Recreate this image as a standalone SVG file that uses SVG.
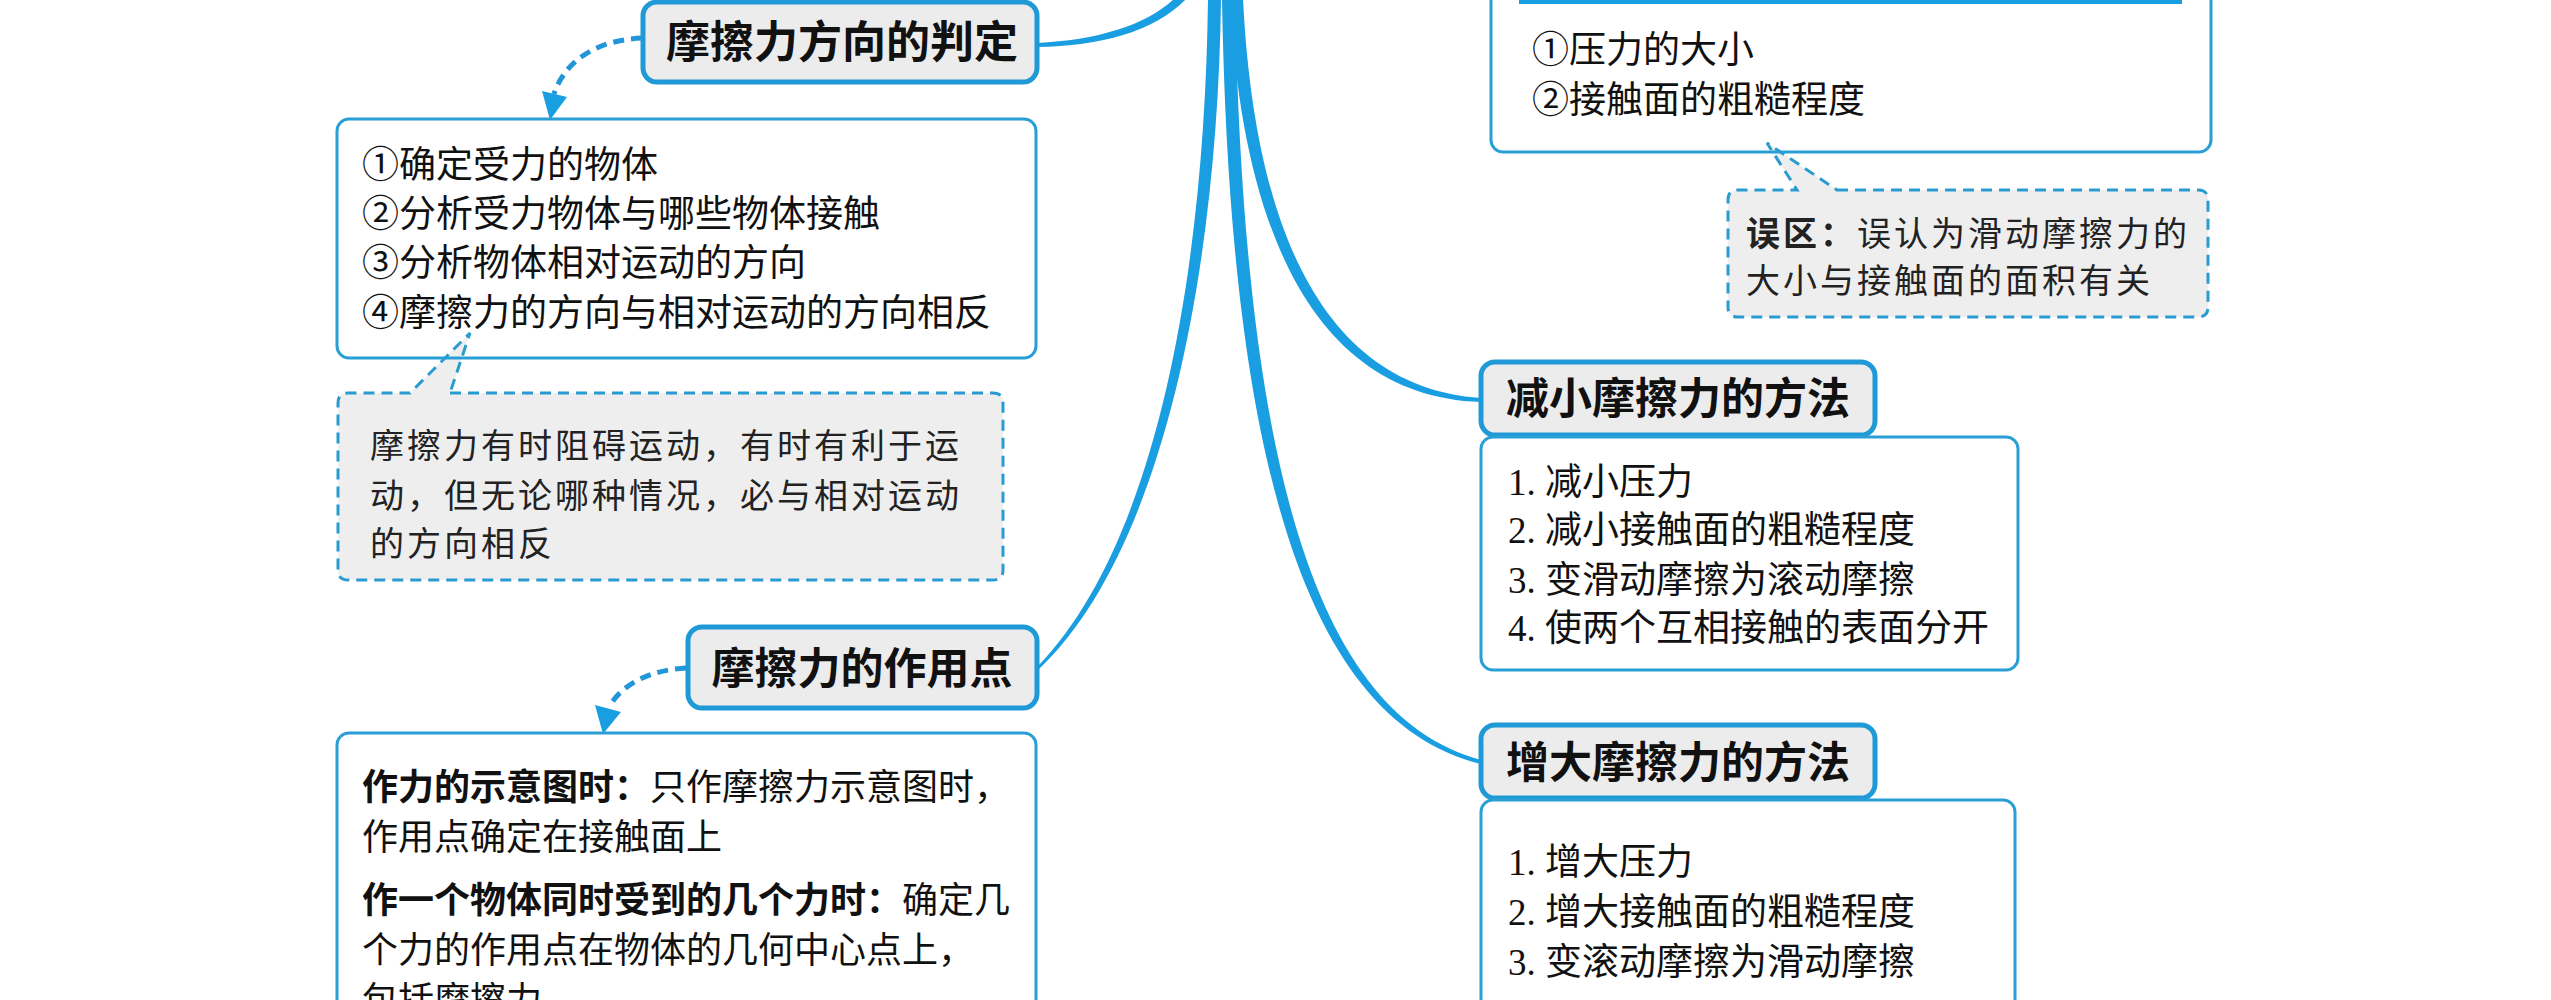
<svg xmlns="http://www.w3.org/2000/svg" width="2551" height="1000" viewBox="0 0 2551 1000">
<defs>
<style>
.title{font-family:"Noto Sans CJK SC","Noto Sans",sans-serif;font-weight:700;font-size:43px;fill:#111;text-anchor:middle}
.tbox{fill:#ececec;stroke:#1f9ad6;stroke-width:5}
.cbox{fill:none;stroke:#2a9fd6;stroke-width:3}
.txt{font-family:"Liberation Serif","Noto Sans CJK SC",serif;font-size:37px;fill:#111}
.b{font-family:"Noto Sans CJK SC",sans-serif;font-weight:700}
.note{font-family:"Noto Sans CJK SC","Noto Sans",sans-serif;font-size:34px;letter-spacing:3px;fill:#222}
.callout{fill:#eeeeee;stroke:#2a9bd0;stroke-width:3;stroke-dasharray:11 7}
.conn{fill:#1a9ee2}
.dash{fill:none;stroke:#2196d8;stroke-width:5;stroke-dasharray:11 7}
.head{fill:#1a9ee2}
</style>
</defs>
<rect x="0" y="0" width="2551" height="1000" fill="#ffffff"/>

<g id="connectors">
<path class="conn" d="M1037,43 C1098,40 1147,25 1175,-2 L1187,-2 C1156,31 1102,46 1037,47 Z"/>
<path class="conn" d="M1208,-2 C1205,260 1160,540 1038,666 L1038,670 C1166,550 1218,260 1221,-2 Z"/>
<path class="conn" d="M1222,-2 C1230,480 1312,722 1481,764 L1481,760 C1320,716 1244,480 1235,-2 Z"/>
<path class="conn" d="M1230,-2 C1243,250 1325,397 1481,402 L1481,398 C1332,388 1255,245 1243,-2 Z"/>
<path class="dash" d="M642,38 C600,40 566,58 554,94"/>
<polygon class="head" points="542,91 567,97 550,120"/>
<path class="dash" d="M686,668 C650,670 622,684 609,707"/>
<polygon class="head" points="595,705 621,712 603,734"/>
</g>

<g id="callout-direction">
<path class="callout" d="M450,393 L993,393 Q1003,393 1003,403 L1003,570 Q1003,580 993,580 L348,580 Q338,580 338,570 L338,403 Q338,393 348,393 L410,393 L470,333 Z"/>
<text class="note" x="370" y="458">摩擦力有时阻碍运动，有时有利于运</text>
<text class="note" x="370" y="508">动，但无论哪种情况，必与相对运动</text>
<text class="note" x="370" y="556">的方向相反</text>
</g>

<g id="node-direction">
<rect class="tbox" x="643" y="2" width="394" height="80" rx="14"/>
<text class="title" x="842" y="58" style="font-size:44px">摩擦力方向的判定</text>
</g>

<g id="box-direction">
<rect class="cbox" x="337" y="119" width="699" height="239" rx="12"/>
<text class="txt" x="362" y="178">①确定受力的物体</text>
<text class="txt" x="362" y="227">②分析受力物体与哪些物体接触</text>
<text class="txt" x="362" y="276">③分析物体相对运动的方向</text>
<text class="txt" x="362" y="326">④摩擦力的方向与相对运动的方向相反</text>
</g>

<g id="node-point">
<rect class="tbox" x="688" y="627" width="349" height="81" rx="14"/>
<text class="title" x="862" y="684">摩擦力的作用点</text>
</g>

<g id="box-point">
<rect class="cbox" x="337" y="733" width="699" height="320" rx="12"/>
<text class="txt" x="362" y="800" style="font-size:36px"><tspan class="b">作力的示意图时：</tspan>只作摩擦力示意图时，</text>
<text class="txt" x="362" y="850" style="font-size:36px">作用点确定在接触面上</text>
<text class="txt" x="362" y="913" style="font-size:36px"><tspan class="b">作一个物体同时受到的几个力时：</tspan>确定几</text>
<text class="txt" x="362" y="963" style="font-size:36px">个力的作用点在物体的几何中心点上，</text>
<text class="txt" x="362" y="1013" style="font-size:36px">包括摩擦力</text>
</g>

<g id="callout-mistake">
<path class="callout" d="M1837,190 L2198,190 Q2208,190 2208,200 L2208,307 Q2208,317 2198,317 L1738,317 Q1728,317 1728,307 L1728,200 Q1728,190 1738,190 L1797,190 L1767,143 Z"/>
<text class="note" x="1746" y="246"><tspan class="b">误区：</tspan>误认为滑动摩擦力的</text>
<text class="note" x="1746" y="293">大小与接触面的面积有关</text>
</g>

<g id="box-factors">
<rect class="cbox" x="1491" y="-20" width="720" height="172" rx="12"/>
<rect x="1519" y="-3" width="663" height="7" fill="#1a9ee2"/>
<text class="txt" x="1532" y="63">①压力的大小</text>
<text class="txt" x="1532" y="113">②接触面的粗糙程度</text>
</g>

<g id="node-reduce">
<rect class="tbox" x="1481" y="362" width="394" height="73" rx="14"/>
<text class="title" x="1678" y="414">减小摩擦力的方法</text>
</g>

<g id="box-reduce">
<rect class="cbox" x="1481" y="437" width="537" height="233" rx="12"/>
<text class="txt" x="1508" y="495">1. 减小压力</text>
<text class="txt" x="1508" y="543">2. 减小接触面的粗糙程度</text>
<text class="txt" x="1508" y="593">3. 变滑动摩擦为滚动摩擦</text>
<text class="txt" x="1508" y="641">4. 使两个互相接触的表面分开</text>
</g>

<g id="node-increase">
<rect class="tbox" x="1481" y="725" width="394" height="73" rx="14"/>
<text class="title" x="1678" y="778">增大摩擦力的方法</text>
</g>

<g id="box-increase">
<rect class="cbox" x="1481" y="800" width="534" height="260" rx="12"/>
<text class="txt" x="1508" y="875">1. 增大压力</text>
<text class="txt" x="1508" y="925">2. 增大接触面的粗糙程度</text>
<text class="txt" x="1508" y="975">3. 变滚动摩擦为滑动摩擦</text>
</g>
</svg>
